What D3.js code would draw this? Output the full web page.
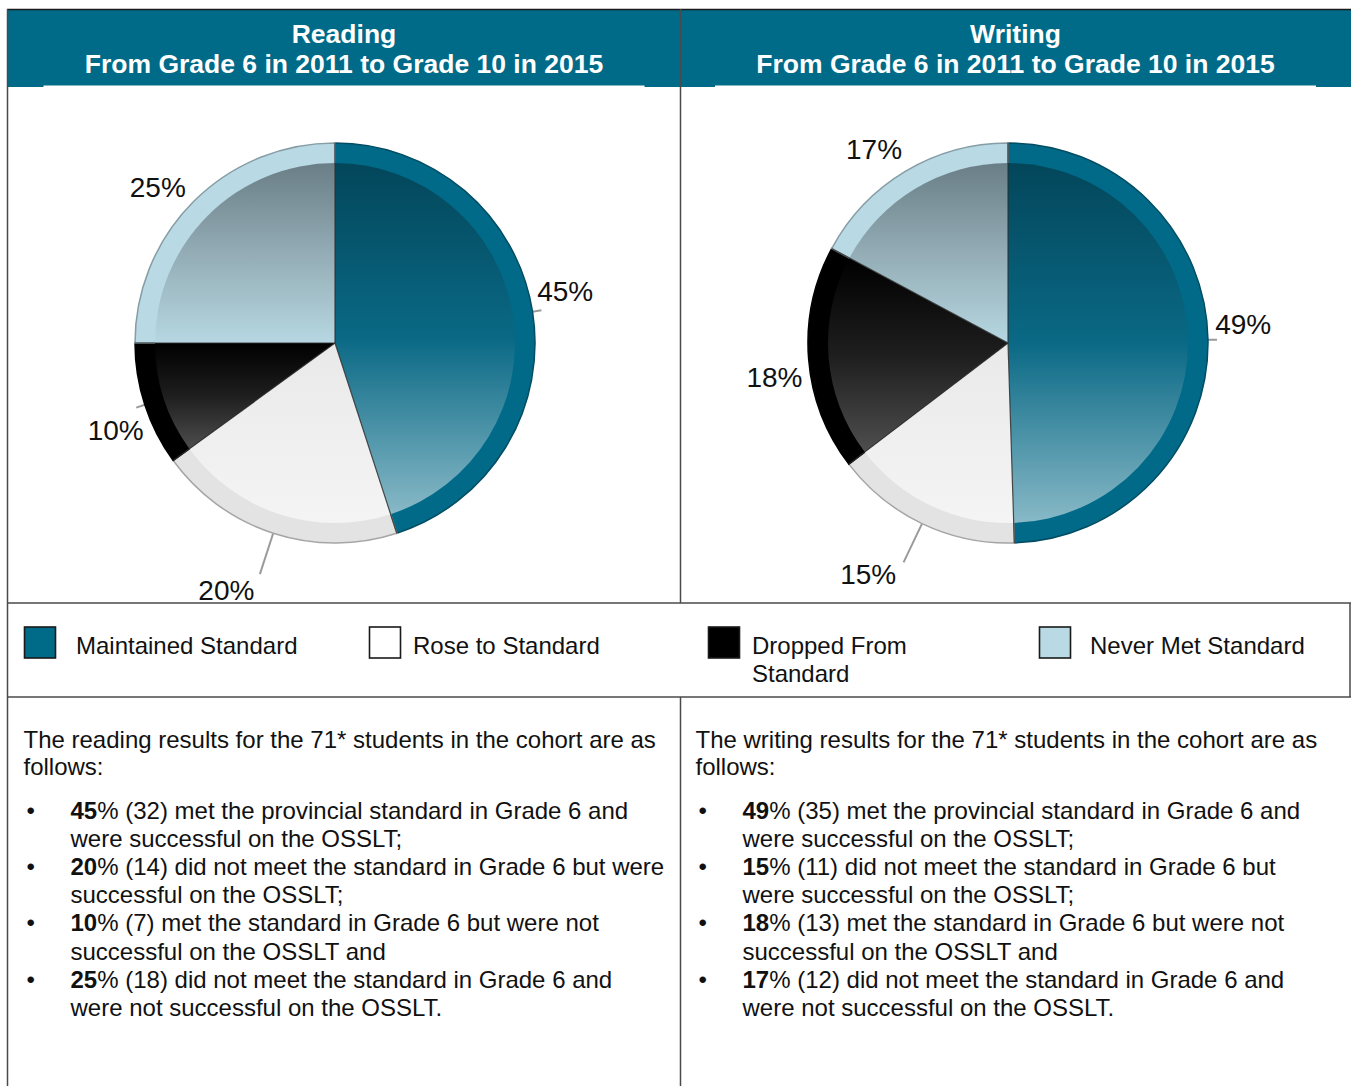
<!DOCTYPE html>
<html><head><meta charset="utf-8">
<script src="https://cdn.jsdelivr.net/npm/d3@7"></script>
<style>html,body{margin:0;padding:0;background:#fff;} svg{display:block;}</style>
</head><body>
<svg id="chart" width="1351" height="1086"></svg>
<script>
// ---------------- DATA ----------------
const categories = ["Maintained Standard", "Rose to Standard", "Dropped From Standard", "Never Met Standard"];
const panelTitles = ["Reading", "Writing"];
const panelSubtitle = "From Grade 6 in 2011 to Grade 10 in 2015";
const readingPercents = [45, 20, 10, 25];
const writingPercents = [49, 15, 18, 17];
const readingCounts = [32, 14, 7, 18];
const writingCounts = [35, 11, 13, 12];
const cohortSize = 71;
const legendLines = [["Maintained Standard"], ["Rose to Standard"], ["Dropped From", "Standard"], ["Never Met Standard"]];
const readingIntro = [`The reading results for the ${cohortSize}* students in the cohort are as`, "follows:"];
const writingIntro = [`The writing results for the ${cohortSize}* students in the cohort are as`, "follows:"];
const readingBullets = [
  [" met the provincial standard in Grade 6 and", "were successful on the OSSLT;"],
  [" did not meet the standard in Grade 6 but were", "successful on the OSSLT;"],
  [" met the standard in Grade 6 but were not", "successful on the OSSLT and"],
  [" did not meet the standard in Grade 6 and", "were not successful on the OSSLT."]
];
const writingBullets = [
  [" met the provincial standard in Grade 6 and", "were successful on the OSSLT;"],
  [" did not meet the standard in Grade 6 but", "were successful on the OSSLT;"],
  [" met the standard in Grade 6 but were not", "successful on the OSSLT and"],
  [" did not meet the standard in Grade 6 and", "were not successful on the OSSLT."]
];

// ---------------- STYLE ----------------
const FONT = "'Liberation Sans', Arial, Helvetica, sans-serif";
const headerColor = "#006b88";
const lineColor = "#4a4a4a";
const rimColors = ["#006a88", "#e3e3e3", "#000000", "#b9d9e4"];
const innerStops = [
  ["#03465a", "#0a6985", "#88b9c7"],
  ["#e9e9e9", "#efefef", "#f4f4f4"],
  ["#000000", "#1e1e1e", "#4e4e4e"],
  ["#6a7e87", "#93acb5", "#b6d7e2"]
];
const legendFill = ["#006b88", "#ffffff", "#000000", "#b9d9e4"];

const svg = d3.select("#chart").attr("font-family", FONT);
const defs = svg.append("defs");
innerStops.forEach((s, i) => {
  const g = defs.append("linearGradient").attr("id", "grad" + i)
    .attr("x1", 0).attr("y1", 0).attr("x2", 0).attr("y2", 1);
  s.forEach((c, j) => g.append("stop").attr("offset", j / (s.length - 1)).attr("stop-color", c));
});

const panels = [
  { title: panelTitles[0], values: readingPercents, counts: readingCounts, intro: readingIntro, bullets: readingBullets, x0: 8, x1: 680, cx: 335 },
  { title: panelTitles[1], values: writingPercents, counts: writingCounts, intro: writingIntro, bullets: writingBullets, x0: 680, x1: 1351, cx: 1008 }
];

// ---------------- HEADER ----------------
svg.append("rect").attr("x", 8).attr("y", 9).attr("width", 1343).attr("height", 78).attr("fill", headerColor);
panels.forEach(p => {
  const mx = (p.x0 + p.x1) / 2;
  svg.append("rect").attr("x", mx - 300.5).attr("y", 85.5).attr("width", 601).attr("height", 2).attr("fill", "#fff");
  svg.append("text").attr("x", mx).attr("y", 43).attr("text-anchor", "middle")
    .attr("fill", "#fff").attr("font-weight", "bold").attr("font-size", 26.5).text(p.title);
  svg.append("text").attr("x", mx).attr("y", 73).attr("text-anchor", "middle")
    .attr("fill", "#fff").attr("font-weight", "bold").attr("font-size", 26.5).text(panelSubtitle);
});

// ---------------- PIES ----------------
const R = 200, Ri = 180, cy = 343;
const pie = d3.pie().sort(null).value(d => d.v);
const outerArc = d3.arc().innerRadius(0).outerRadius(R);
const innerArc = d3.arc().innerRadius(0).outerRadius(Ri);

panels.forEach(p => {
  const data = pie(p.values.map((v, i) => ({ v, i })));
  const g = svg.append("g").attr("transform", `translate(${p.cx},${cy})`);

  // leader lines (upper-left labels sit close to the pie and have none)
  data.forEach(d => {
    const mid = (d.startAngle + d.endAngle) / 2;
    if (mid > 1.44 * Math.PI) return;
    const pushed = Math.cos(mid) < -0.8;
    const r2 = pushed ? 243 : 209;
    g.append("line")
      .attr("x1", R * Math.sin(mid)).attr("y1", -R * Math.cos(mid))
      .attr("x2", r2 * Math.sin(mid)).attr("y2", -r2 * Math.cos(mid))
      .attr("stroke", "#9a9a9a").attr("stroke-width", 2);
  });

  g.selectAll("path.rim").data(data).join("path").attr("class", "rim")
    .attr("d", outerArc)
    .attr("fill", d => rimColors[d.data.i])
    .attr("stroke", d => d3.color(rimColors[d.data.i]).darker(0.9))
    .attr("stroke-width", 1.5);

  g.selectAll("path.inner").data(data).join("path").attr("class", "inner")
    .attr("d", innerArc)
    .attr("fill", d => `url(#grad${d.data.i})`);

  data.forEach(d => {
    const a = d.startAngle;
    g.append("line").attr("x1", 0).attr("y1", 0)
      .attr("x2", R * Math.sin(a)).attr("y2", -R * Math.cos(a))
      .attr("stroke", "#2f2f2f").attr("stroke-width", 1.2).attr("stroke-opacity", 0.85);
  });

  // labels
  data.forEach(d => {
    const mid = (d.startAngle + d.endAngle) / 2;
    const pushed = Math.cos(mid) < -0.8;
    const a = pushed ? mid + 0.1 : mid - 0.064;
    const r = pushed ? 270 : 236;
    g.append("text")
      .attr("x", r * Math.sin(a)).attr("y", -r * Math.cos(a))
      .attr("dy", "0.36em").attr("text-anchor", "middle")
      .attr("font-size", 28).attr("fill", "#111")
      .text(d.data.v + "%");
  });
});

// ---------------- LEGEND ----------------
const legX = [24, 369, 708, 1039];
const legTX = [76, 413, 752, 1090];
categories.forEach((c, i) => {
  svg.append("rect").attr("x", legX[i] + 0.5).attr("y", 627).attr("width", 31).attr("height", 31)
    .attr("fill", legendFill[i]).attr("stroke", "#1a1a1a").attr("stroke-width", 1.6);
  const t = svg.append("text").attr("font-size", 24).attr("fill", "#111");
  legendLines[i].forEach((ln, k) => {
    t.append("tspan").attr("x", legTX[i]).attr("y", 654 + k * 28).text(ln);
  });
});

// ---------------- BODY TEXT ----------------
panels.forEach(p => {
  const px = p.x0 + 15.5, bx = p.x0 + 18.5, tx = p.x0 + 62.5;
  p.intro.forEach((ln, k) => {
    svg.append("text").attr("x", px).attr("y", 748 + k * 27).attr("font-size", 24).attr("fill", "#111").text(ln);
  });
  let y = 818.5;
  const lh = 28.2;
  p.bullets.forEach((b, i) => {
    svg.append("text").attr("x", bx).attr("y", y).attr("font-size", 24).attr("fill", "#111").text("\u2022");
    const t = svg.append("text").attr("x", tx).attr("y", y).attr("font-size", 24).attr("fill", "#111");
    t.append("tspan").attr("font-weight", "bold").text(p.values[i]);
    t.append("tspan").text(`% (${p.counts[i]})` + b[0]);
    y += lh;
    svg.append("text").attr("x", tx).attr("y", y).attr("font-size", 24).attr("fill", "#111").text(b[1]);
    y += lh;
  });
});

// ---------------- BORDERS ----------------
const line = (x1, y1, x2, y2, c = lineColor, w = 1.5) =>
  svg.append("line").attr("x1", x1).attr("y1", y1).attr("x2", x2).attr("y2", y2)
    .attr("stroke", c).attr("stroke-width", w);
line(7, 9.5, 1351, 9.5, "#1a1a1a", 1.5);
line(7.5, 9, 7.5, 1086);
line(680.5, 9, 680.5, 603);
line(680.5, 697, 680.5, 1086);
line(7, 603, 1351, 603);
line(7, 697, 1351, 697);
line(1350, 603, 1350, 697);
</script>
</body></html>
